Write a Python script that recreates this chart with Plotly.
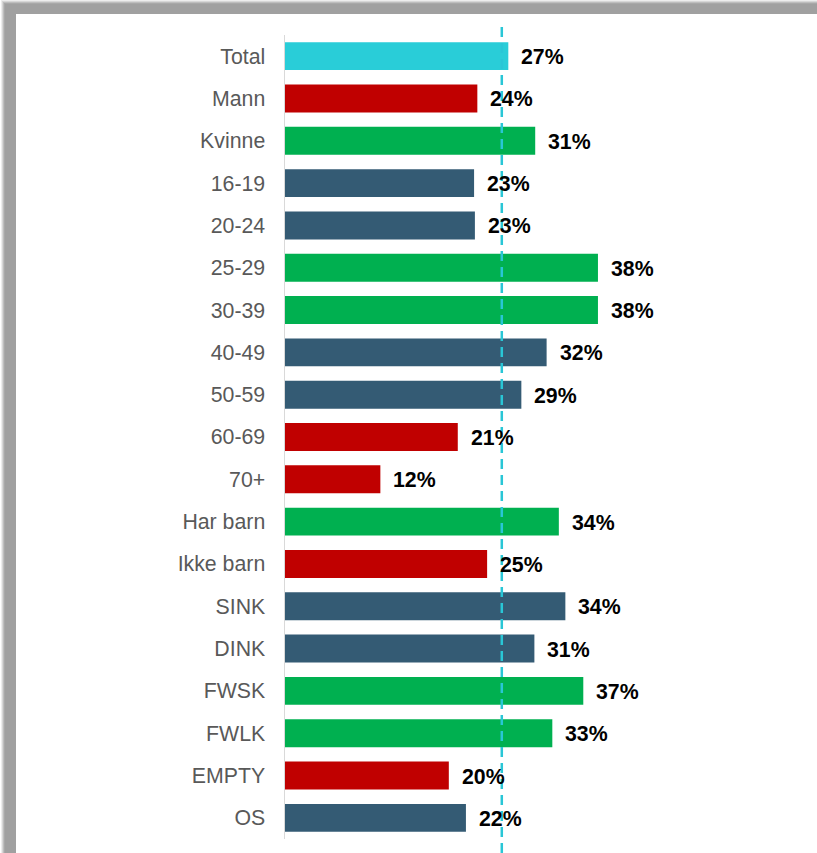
import plotly.graph_objects as go

categories = ["Total", "Mann", "Kvinne", "16-19", "20-24", "25-29", "30-39", "40-49",
              "50-59", "60-69", "70+", "Har barn", "Ikke barn", "SINK", "DINK", "FWSK",
              "FWLK", "EMPTY", "OS"]
values = [27.4, 23.6, 30.7, 23.2, 23.3, 38.4, 38.4, 32.1, 29.0, 21.2, 11.7, 33.6, 24.8,
          34.4, 30.6, 36.6, 32.8, 20.1, 22.2]
labels = ["27%", "24%", "31%", "23%", "23%", "38%", "38%", "32%", "29%", "21%", "12%",
          "34%", "25%", "34%", "31%", "37%", "33%", "20%", "22%"]
groups = ["total", "low", "high", "mid", "mid", "high", "high", "mid", "mid", "low", "low",
          "high", "low", "mid", "mid", "high", "high", "low", "mid"]
reference_value = 26.6

palette = {"total": "#29CDD8", "low": "#C00000", "high": "#00B050", "mid": "#345B74"}
colors = [palette[g] for g in groups]

W, H = 817, 853
L, T, B = 285, 35, 14
PW = 450
R = W - L - PW
PH = H - T - B

fig = go.Figure()
fig.add_trace(go.Bar(
    x=values, y=categories, orientation="h",
    marker=dict(color=colors, line=dict(width=0)),
    hoverinfo="skip",
))

font_family = "Liberation Sans, Arial, sans-serif"

for c, v, lab in zip(categories, values, labels):
    fig.add_annotation(x=v, y=c, xref="x", yref="y", text=f"<b>{lab}</b>",
                       showarrow=False, xanchor="left", xshift=11, yshift=-1,
                       font=dict(family=font_family, size=21.3, color="#000000"))

def px_x(p):
    return (p - L) / PW

def px_y(p):
    return 1 - (p - T) / PH

# shadow frame (top and left)
for x0, y0, col in [(1, 0, "#EDEDED"), (2, 1, "#D6D6D6"), (3, 2, "#BDBDBD"),
                    (4, 3, "#A8A8A8"), (5, 4, "#A0A0A0")]:
    fig.add_shape(type="rect", xref="paper", yref="paper",
                  x0=px_x(x0), x1=px_x(W + 5), y0=px_y(y0), y1=px_y(H + 5),
                  fillcolor=col, line=dict(width=0), layer="below")
fig.add_shape(type="rect", xref="paper", yref="paper",
              x0=px_x(16), x1=px_x(W + 5), y0=px_y(14), y1=px_y(H + 5),
              fillcolor="#FFFFFF", line=dict(width=0), layer="below")

# reference dashed line
fig.add_shape(type="line", xref="x", yref="paper",
              x0=reference_value, x1=reference_value,
              y0=px_y(H), y1=px_y(25),
              line=dict(color="#29C6D6", width=2.5, dash="10px,6px"), layer="above")

fig.update_layout(
    width=W, height=H,
    margin=dict(l=L, r=R, t=T, b=B, pad=0),
    paper_bgcolor="#FFFFFF", plot_bgcolor="rgba(0,0,0,0)",
    bargap=0.34, showlegend=False,
    xaxis=dict(range=[0, PW / 8.15], visible=False, fixedrange=True),
    yaxis=dict(autorange="reversed", showgrid=False, zeroline=False, fixedrange=True,
               showline=True, linecolor="#D9D9D9", linewidth=1.5,
               ticks="", ticklabelstandoff=14,
               tickfont=dict(family=font_family, size=21.3, color="#595959")),
)

fig.write_html("out.html", config={"displayModeBar": False, "staticPlot": True},
               post_script="document.body.style.margin='0';document.body.style.overflow='hidden';")
